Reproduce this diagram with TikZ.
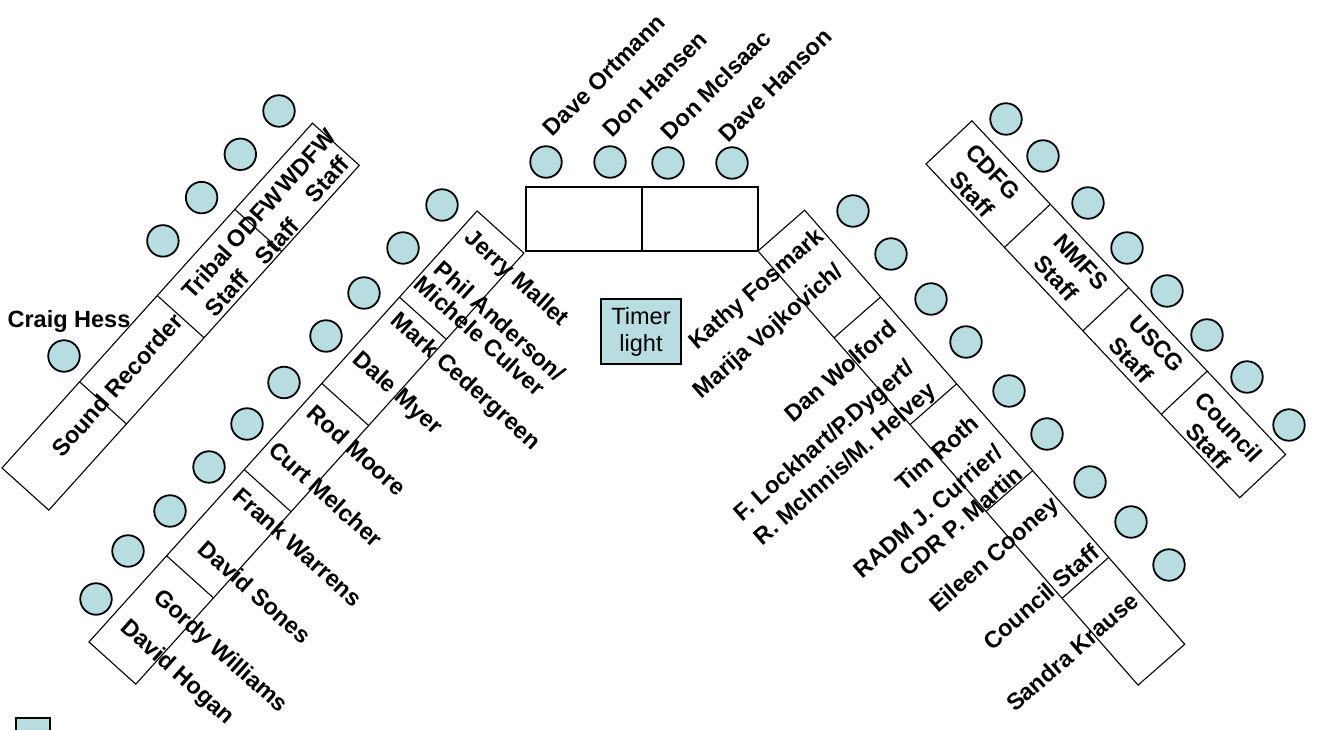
\documentclass[tikz,border=0pt]{standalone}
\usepackage{fontspec}
\setmainfont{Liberation Sans}
\definecolor{seatblue}{RGB}{183,221,225}
\begin{document}
\begin{tikzpicture}[x=1pt,y=1pt,
  seat/.style={circle, draw, line width=1.8pt, fill=seatblue, minimum size=31.5pt, inner sep=0pt},
  tableline/.style={draw, line width=1.1pt},
  lbl/.style={font=\fontsize{23.5}{27}\selectfont\bfseries, inner sep=0pt},
  plain/.style={font=\fontsize{23.5}{27}\selectfont, inner sep=0pt, align=center}
]
\useasboundingbox (0,0) rectangle (1319,730);
\clip (0,0) rectangle (1319,730);

% ---------- tables ----------
% far-left table
\begin{scope}[shift={(2,262)},rotate=48]
  \draw[tableline] (0,0) rectangle (464,-63);
  \foreach \k in {116,232,348} \draw[tableline] (\k,0) -- (\k,-63);
\end{scope}
% left long table
\begin{scope}[shift={(89,88)},rotate=48]
  \draw[tableline] (0,0) rectangle (580,-63);
  \foreach \k in {116,232,348,464} \draw[tableline] (\k,0) -- (\k,-63);
\end{scope}
% head table
\draw[tableline, line width=1.3pt] (526,479) rectangle (758,543);
\draw[tableline, line width=1.3pt] (642,479) -- (642,543);
% right inner table
\begin{scope}[shift={(758,479)},rotate=-48.8]
  \draw[tableline] (0,0) rectangle (577,62);
  \foreach \k in {115.4,230.8,346.2,461.6} \draw[tableline] (\k,0) -- (\k,62);
\end{scope}
% far-right table
\begin{scope}[shift={(926,566)},rotate=-46.77]
  \draw[tableline] (0,0) rectangle (458,63);
  \foreach \k in {114.5,229,343.5} \draw[tableline] (\k,0) -- (\k,63);
\end{scope}

% ---------- seats ----------
\node[seat] (hess) at (64,374) {};
\foreach \i in {0,...,3} \node[seat] (fl\i) at ({279-38.7*\i},{619-43.3*\i}) {};
\foreach \p [count=\i] in {(442,525),(403,482),(364,437),(326,394),(284,347.5),(247,306),(209,263),(170,219),(128,179),(96,131)}
  \node[seat] (ll\i) at \p {};
\node[seat] (h1) at (546,568) {};
\node[seat] (h2) at (610,568) {};
\node[seat] (h3) at (668,567) {};
\node[seat] (h4) at (732,567) {};
\foreach \p [count=\i] in {(853,519),(891,476),(931,431),(966,388),(1009,339),(1047,296),(1090,248),(1131,208),(1169,165)}
  \node[seat] (rr\i) at \p {};
\foreach \p [count=\i] in {(1006,611),(1043,574),(1088,527),(1127,482),(1167,439),(1207,395),(1247,353),(1289,305)}
  \node[seat] (fr\i) at \p {};

% timer light
\node[plain, draw, line width=1.8pt, fill=seatblue, minimum width=80pt, minimum height=65pt] (timer) at (641,398.5) {Timer\\light};
% legend square (cut by the page edge)
\draw[line width=1.8pt, fill=seatblue] (16,-8) rectangle (50,12);

% ---------- labels ----------
\node[lbl] (lhess) at (69,409) {Craig Hess};

\node[lbl, rotate=45] (t1) at (604,655) {Dave Ortmann};
\node[lbl, rotate=45] (t2) at (655,646) {Don Hansen};
\node[lbl, rotate=45] (t3) at (716,645) {Don McIsaac};
\node[lbl, rotate=45] (t4) at (775,645) {Dave Hanson};

\node[lbl, rotate=48] (a1) at (117,345) {Sound Recorder};
\node[lbl, rotate=48] (a2) at (207,458) {Tribal};
\node[lbl, rotate=48] (a2s) at (227,437) {Staff};
\node[lbl, rotate=48] (a3) at (255,512) {ODFW};
\node[lbl, rotate=48] (a3s) at (277,489) {Staff};
\node[lbl, rotate=48] (a4) at (306,569) {WDFW};
\node[lbl, rotate=48] (a4s) at (327,551) {Staff};

\node[lbl, rotate=-42] (b1) at (516,451) {Jerry Mallet};
\node[lbl, rotate=-42] (b2) at (500,409) {Phil Anderson/};
\node[lbl, rotate=-42] (b3) at (480,394) {Michele Culver};
\node[lbl, rotate=-42] (b4) at (465,348) {Mark Cedergreen};
\node[lbl, rotate=-42] (b5) at (397,336) {Dale Myer};
\node[lbl, rotate=-42] (b6) at (357,280) {Rod Moore};
\node[lbl, rotate=-42] (b7) at (326,236) {Curt Melcher};
\node[lbl, rotate=-42] (b8) at (298,183) {Frank Warrens};
\node[lbl, rotate=-42] (b9) at (255,138) {David Sones};
\node[lbl, rotate=-42] (b10) at (220,78) {Gordy Williams};
\node[lbl, rotate=-42] (b11) at (177,57) {David Hogan};

\node[lbl, rotate=41.2] (c1) at (757,440) {Kathy Fosmark};
\node[lbl, rotate=41.2] (c2) at (769,398) {Marija Vojkovich/};
\node[lbl, rotate=41.2] (c3) at (840,359) {Dan Wolford};
\node[lbl, rotate=41.2] (c4) at (825,288) {F. Lockhart/P.Dygert/};
\node[lbl, rotate=41.2] (c5) at (846,265) {R. McInnis/M. Helvey};
\node[lbl, rotate=41.2] (c6) at (937,277) {Tim Roth};
\node[lbl, rotate=41.2] (c7) at (928,219) {RADM J. Currier/};
\node[lbl, rotate=41.2] (c8) at (961,209) {CDR P. Martin};
\node[lbl, rotate=41.2] (c9) at (995,174) {Eileen Cooney};
\node[lbl, rotate=41.2] (c10) at (1041,133) {Council Staff};
\node[lbl, rotate=41.2] (c11) at (1072,78) {Sandra Krause};

\node[lbl, rotate=-46.8] (d1) at (993,558) {CDFG};
\node[lbl, rotate=-46.8] (d1s) at (972,536) {Staff};
\node[lbl, rotate=-46.8] (d2) at (1081,468) {NMFS};
\node[lbl, rotate=-46.8] (d2s) at (1056,452) {Staff};
\node[lbl, rotate=-46.8] (d3) at (1157,386) {USCG};
\node[lbl, rotate=-46.8] (d3s) at (1131,370) {Staff};
\node[lbl, rotate=-46.8] (d4) at (1229,303) {Council};
\node[lbl, rotate=-46.8] (d4s) at (1208,284) {Staff};
\end{tikzpicture}
\end{document}
